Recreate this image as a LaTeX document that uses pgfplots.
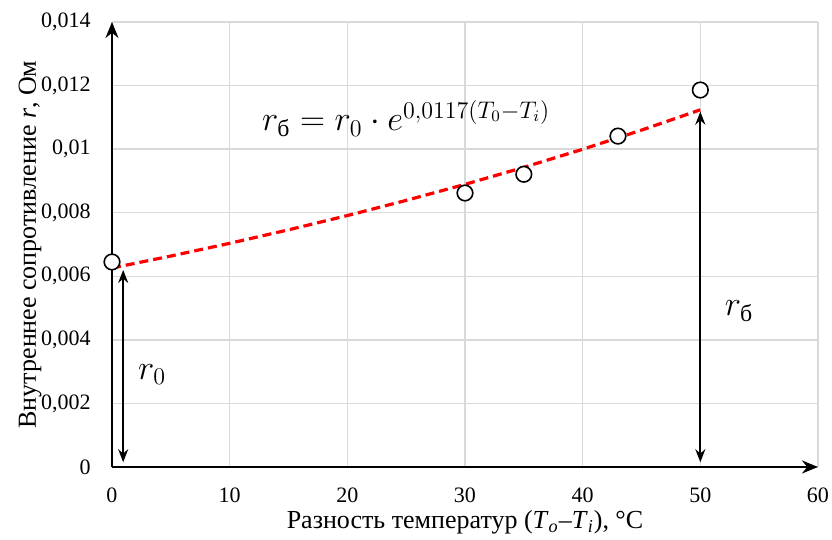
\documentclass[border=0pt]{standalone}
\usepackage{fontspec}
\setmainfont{Liberation Serif}
\usepackage{amsmath}
\usepackage{pgfplots}
\pgfplotsset{compat=1.18}
\usetikzlibrary{arrows.meta}

% measured internal resistance vs. temperature difference
\pgfplotstableread{
x      r
0      0.00645
30     0.00862
35     0.00921
43     0.01041
50     0.01186
}\measured

% exponential trend r = r0 * exp(0.0117 x), r0 = 0.00626
\pgfplotstableread{
x      r
0      0.006260
5      0.006637
10     0.007037
15     0.007461
20     0.007910
25     0.008387
30     0.008892
35     0.009428
40     0.009996
45     0.010598
50     0.011237
}\trend

\begin{document}
\begin{tikzpicture}
\begin{axis}[
  name=ax,
  scale only axis, width=353pt, height=222.5pt,
  xmin=0, xmax=60, ymin=0, ymax=0.014,
  axis lines=left,
  axis line style={line width=1.1pt, -{Stealth[length=8pt,width=6.5pt]}},
  xtick={0,10,20,30,40,50,60},
  ytick={0,0.002,0.004,0.006,0.008,0.01,0.012,0.014},
  grid=major,
  major grid style={line width=0.7pt, color=black!15},
  tick style={draw=none},
  scaled y ticks=false,
  yticklabel style={xshift=-5pt, /pgf/number format/fixed, /pgf/number format/precision=3,
    /pgf/number format/use comma, /pgf/number format/assume math mode=true},
  xticklabel style={/pgf/number format/assume math mode=true, yshift=-5pt},
  ticklabel style={font=\fontsize{11}{13}\selectfont},
  label style={font=\fontsize{13}{15}\selectfont},
  xlabel={Разность температур (\textit{T}\textsubscript{\textit{o}}–\textit{T}\textsubscript{\textit{i}}), °C},
  ylabel={Внутреннее сопротивление \textit{r}, Ом},
  xlabel style={yshift=3pt},
  ylabel style={yshift=-7pt},
  clip=false,
]
\addplot[red, line width=1.6pt, dash pattern=on 4.5pt off 2.5pt] table[x=x, y=r] {\trend};
\addplot[only marks, mark=*, mark size=3.9pt,
  mark options={fill=white, draw=black, line width=0.8pt}] table[x=x, y=r] {\measured};

\draw[line width=0.9pt, {Stealth[length=6.5pt,width=5pt]}-{Stealth[length=6.5pt,width=5pt]}]
  (axis cs:0.95,0.00015) -- (axis cs:0.95,0.0062);
\draw[line width=0.9pt, {Stealth[length=6.5pt,width=5pt]}-{Stealth[length=6.5pt,width=5pt]}]
  (axis cs:50,0.00015) -- (axis cs:50,0.01118);

\node[font=\fontsize{17}{20}\selectfont] at (axis cs:3.4,0.0029) {$r_0$};
\node[font=\fontsize{17}{20}\selectfont] at (axis cs:53.3,0.0049) {$r_{\text{б}}$};
\node[font=\fontsize{17}{20}\selectfont] at (axis cs:25,0.01097)
  {$r_{\text{б}} = r_0 \cdot e^{0{,}0117(T_0 - T_i)}$};
\end{axis}
\pgfresetboundingbox
\useasboundingbox ([shift={(-56pt,-36.5pt)}]ax.south west) rectangle ([shift={(7pt,11pt)}]ax.north east);
\end{tikzpicture}
\end{document}
